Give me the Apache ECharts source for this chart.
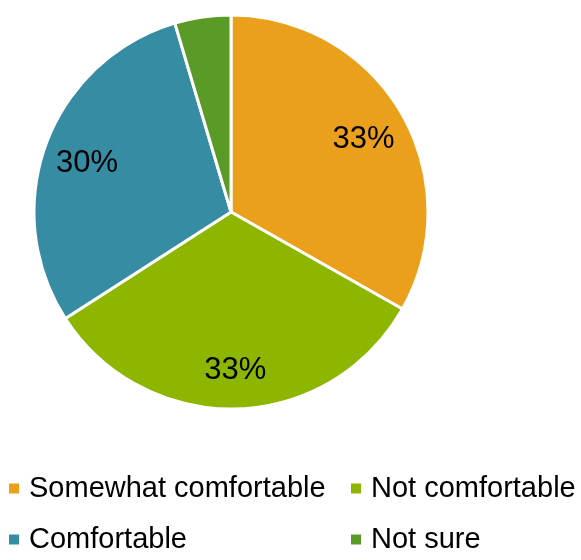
<!DOCTYPE html>
<html><head><meta charset="utf-8">
<script src="https://cdn.jsdelivr.net/npm/echarts@6/dist/echarts.min.js"></script>
<style>html,body{margin:0;padding:0;background:#fff}#c{width:581px;height:560px}</style>
</head><body><div id="c"></div>
<script>
const categories = ['Somewhat comfortable', 'Not comfortable', 'Comfortable', 'Not sure'];
const values = [33.2, 32.7, 29.5, 4.6];
const colors = ['#EBA01C', '#8DB600', '#358CA3', '#5A9A26'];
const showLabel = [true, true, true, false];

const data = categories.map((n, i) => ({name: n, value: values[i], itemStyle: {color: colors[i]}}));
const labelData = categories.map((n, i) => ({name: n, value: values[i], label: {show: showLabel[i]}}));
const font = 'Liberation Sans, Arial, sans-serif';
const legendPos = [[7, 474], [349, 474], [7, 525], [349, 525]];
const legends = categories.map((n, i) => ({
  data: [n], left: legendPos[i][0], top: legendPos[i][1], itemWidth: 12, itemHeight: 12, itemGap: 0,
  icon: 'rect', padding: 0, textStyle: {fontFamily: font, fontSize: 29, color: '#000', padding: [0, 0, 0, 4]}
}));
const chart = echarts.init(document.getElementById('c'));
chart.setOption({
  animation: false,
  legend: legends,
  series: [
    {type: 'pie', center: [231, 212], radius: [0, 197], startAngle: 90, clockwise: true,
     itemStyle: {borderColor: '#fff', borderWidth: 3}, label: {show: false}, labelLine: {show: false},
     emphasis: {disabled: true}, data: data},
    {type: 'pie', center: [231, 212], radius: [104, 197], startAngle: 90, clockwise: true, silent: true,
     itemStyle: {color: 'rgba(0,0,0,0)', borderWidth: 0},
     label: {position: 'inside', offset: [0, 5], formatter: p => Math.round(p.value) + '%', fontFamily: font, fontSize: 31, color: '#000'},
     labelLine: {show: false}, emphasis: {disabled: true}, data: labelData}
  ]
});
</script></body></html>
